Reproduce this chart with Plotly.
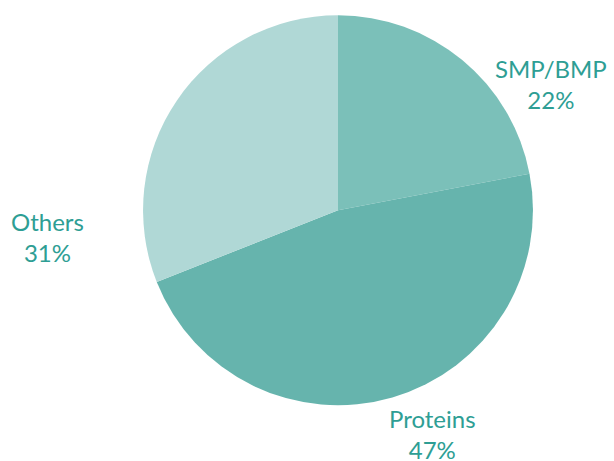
import plotly.graph_objects as go

labels = ["SMP/BMP", "Proteins", "Others"]
values = [22, 47, 31]
colors = ["#7bc0b9", "#66b4ad", "#b0d8d6"]

# label anchor positions (paper coords) for each slice's text
label_pos = [(0.898, 0.818), (0.704, 0.058), (0.077, 0.486)]

fig = go.Figure(go.Pie(
    labels=labels, values=values, sort=False, direction="clockwise",
    rotation=0, marker=dict(colors=colors, line=dict(width=0)),
    textinfo="none", hoverinfo="label+percent", showlegend=False,
    domain=dict(x=[0.233, 0.868], y=[0.121, 0.967]),
))

total = sum(values)
for lab, val, (x, y) in zip(labels, values, label_pos):
    fig.add_annotation(
        x=x, y=y, xref="paper", yref="paper", showarrow=False,
        xanchor="center", yanchor="middle",
        text=f"{lab}<br>{round(100*val/total)}%",
        font=dict(family="Lato, Open Sans, sans-serif", size=24, color="#2e9e94"),
        align="center",
    )

fig.update_layout(
    width=614, height=461, margin=dict(l=0, r=0, t=0, b=0),
    paper_bgcolor="white", plot_bgcolor="white",
)
fig.write_html("out.html", post_script="document.body.style.margin='0';",
               config={"displayModeBar": False})
